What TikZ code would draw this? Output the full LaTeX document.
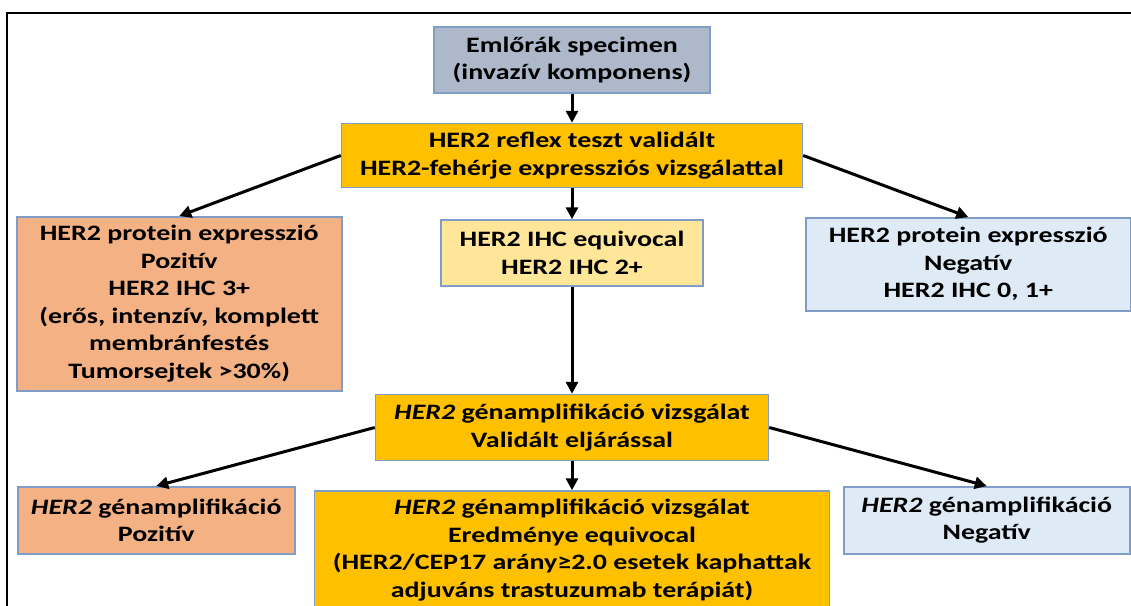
\documentclass[tikz,border=0pt]{standalone}
\usepackage{fontspec}
\setmainfont{Carlito}[FakeStretch=1.27]
\usetikzlibrary{arrows.meta, positioning}
\definecolor{specgray}{HTML}{ADB9CA}
\definecolor{testgold}{HTML}{FFC000}
\definecolor{posorange}{HTML}{F4B183}
\definecolor{equivyellow}{HTML}{FFE699}
\definecolor{negblue}{HTML}{DEEBF7}
\definecolor{boxedge}{HTML}{7F9DC6}

\begin{document}
\begin{tikzpicture}[x=1pt, y=1pt, node distance=29pt,
  every node/.style={font=\fontsize{22}{27.5}\selectfont\bfseries},
  box/.style={draw=boxedge, line width=1.5pt, align=center, inner sep=2pt},
  link/.style={-{Triangle[length=12pt, width=12pt]}, line width=3pt}]
  \useasboundingbox (0,0) rectangle (1131,-605);
  \draw[line width=2.2pt] (7,-13) rectangle (1160,-630);
  % middle column
  \node[box, fill=specgray, minimum width=276pt, minimum height=66pt] (spec) at (572,-60) {Emlőrák specimen\\(invazív komponens)};
  \node[box, fill=testgold, minimum width=461pt, minimum height=64pt, below=of spec] (reflex) {HER2 reflex teszt validált\\HER2-fehérje expressziós vizsgálattal};
  \node[box, fill=equivyellow, minimum width=262pt, minimum height=66pt, below=31pt of reflex] (ihc) {HER2 IHC equivocal\\HER2 IHC 2+};
  \node[box, fill=testgold, minimum width=393pt, minimum height=66pt, below=107pt of ihc] (gene) {\textit{HER2} génamplifikáció vizsgálat\\Validált eljárással};
  \node[box, fill=testgold, minimum width=515pt, minimum height=118pt, below=of gene] (geneq) {\textit{HER2} génamplifikáció vizsgálat\\Eredménye equivocal\\(HER2/CEP17 arány≥2.0 esetek kaphattak\\adjuváns trastuzumab terápiát)};
  % side boxes
  \node[box, fill=posorange, minimum width=325pt, minimum height=174pt, anchor=north west] (ihcpos) at (16,-216) {HER2 protein expresszió\\Pozitív\\HER2 IHC 3+\\(erős, intenzív, komplett\\membránfestés\\Tumorsejtek >30\%)};
  \node[box, fill=negblue, minimum width=325pt, minimum height=93pt, anchor=north west] (ihcneg) at (805,-217) {HER2 protein expresszió\\Negatív\\HER2 IHC 0, 1+};
  \node[box, fill=posorange, minimum width=277pt, minimum height=67pt, anchor=north west] (genpos) at (17,-486) {\textit{HER2} génamplifikáció\\Pozitív};
  \node[box, fill=negblue, minimum width=286pt, minimum height=67pt, anchor=north west] (genneg) at (843,-486) {\textit{HER2} génamplifikáció\\Negatív};
  % connectors
  \draw[link] (spec) -- (reflex);
  \draw[link] (reflex.west) -- (ihcpos.north);
  \draw[link] (reflex.east) -- (ihcneg.north);
  \draw[link] (reflex) -- (ihc);
  \draw[link] (ihc) -- (gene);
  \draw[link] (gene.west) -- (genpos.north);
  \draw[link] (gene) -- (geneq);
  \draw[link] (gene.east) -- (genneg.north);
\end{tikzpicture}
\end{document}
